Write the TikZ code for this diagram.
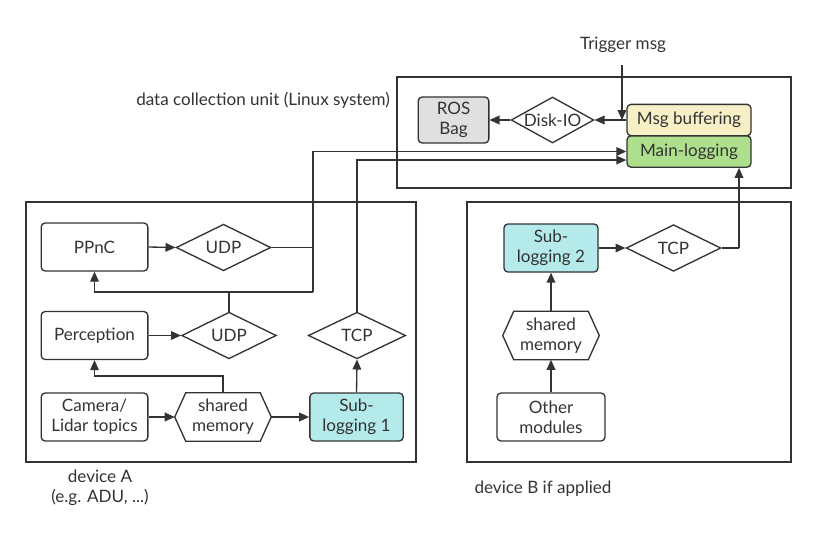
\documentclass[tikz,border=0pt]{standalone}
\usepackage{fontspec}
\setmainfont{Lato}
\usetikzlibrary{arrows.meta,shapes.geometric}
\definecolor{ink}{HTML}{333333}
\definecolor{bagfill}{HTML}{E0E0E0}
\definecolor{buffill}{HTML}{F7EFC6}
\definecolor{mainfill}{HTML}{ADDF8D}
\definecolor{subfill}{HTML}{B5EAEA}
\def\hexbox(#1){\draw[ink, line width=1pt] (#1.west) -- ([xshift=8.25pt]#1.north west) -- ([xshift=-8.25pt]#1.north east) -- (#1.east) -- ([xshift=-8.25pt]#1.south east) -- ([xshift=8.25pt]#1.south west) -- cycle;}
\tikzset{
  box/.style={draw=ink, line width=1pt, rounded corners=3pt, align=center, inner sep=0pt, minimum width=80pt, minimum height=36pt, text=ink},
  gate/.style={draw=ink, line width=1pt, diamond, aspect=2, inner sep=0pt, minimum width=71pt, minimum height=35pt, text=ink},
  hexa/.style={align=center, inner sep=0pt, minimum width=72pt, minimum height=36pt, text=ink},
  wire/.style={ink, line width=1pt},
  arr/.style={wire, -{Triangle[length=7.5pt,width=6.5pt]}},
  lbl/.style={text=ink, align=center},
}
\begin{document}
\begin{tikzpicture}[x=0.75pt, y=-0.75pt, font=\fontsize{12.8}{15}\selectfont]
			%%%%% START %%%%%
			\useasboundingbox (0,0) rectangle (816,533);
			
			\draw[wire] (397, 77) rectangle (791, 188);
			\draw[wire] (26, 202) rectangle (416, 462);
			\draw[wire] (467, 202) rectangle (791, 462);
			
			\node[lbl] (trigger) at (623, 45) {Trigger msg};
			\node[lbl] (dcu) at (263, 100) {data collection unit (Linux system)};
			\node[lbl] (devA) at (100, 488) {device A\\(e.g. ADU, ...)};
			\node[lbl] (devB) at (543, 489) {device B if applied};
			
			\node[box, fill=bagfill, minimum width=53pt, minimum height=34.5pt] (bag) at (453.5, 120) {ROS\\Bag};
			\node[gate, minimum width=59pt, minimum height=34.5pt] (disk) at (552.5, 120) {Disk-IO};
			\node[box, fill=buffill, minimum width=93pt, minimum height=23.5pt] (buf) at (689, 120) {Msg buffering};
			\node[box, fill=mainfill, minimum width=93pt, minimum height=23.5pt] (main) at (689, 151.5) {Main-logging};
			
			\node[box] (ppnc) at (94.5, 247) {PPnC};
			\node[gate] (udpa) at (223.5, 247.5) {UDP};
			\node[box] (perc) at (94.5, 335.5) {Perception};
			\node[gate] (udpb) at (229, 335.5) {UDP};
			\node[gate, minimum width=73pt] (tcpa) at (357, 335.5) {TCP};
			\node[box] (cam) at (94.5, 417) {Camera/\\Lidar topics};
			\node[hexa] (smema) at (223, 417) {shared\\memory};
			\hexbox(smema)
			\node[box, fill=subfill, minimum width=70pt] (suba) at (356.5, 417) {Sub-\\logging 1};
			
			\node[box, fill=subfill, minimum width=70.5pt] (subb) at (551, 248) {Sub-\\logging 2};
			\node[gate] (tcpb) at (673.5, 248) {TCP};
			\node[hexa] (smemb) at (551, 335.5) {shared\\memory};
			\hexbox(smemb)
			\node[box, minimum width=81pt] (other) at (551, 417) {Other\\modules};
			
			\coordinate (trig) at (622, 65);
			\coordinate (bendA) at (313, 292);
			\coordinate (bendB) at (223, 376);
			\coordinate (bendC) at (739, 248);
			
			\draw[arr] (trig) -- (trig |- buf.west);
			\draw[arr] (buf.west) -- (disk.east);
			\draw[arr] (disk.west) -- (bag.east);
			
			\draw[wire] (udpa.east) -- (udpa.east -| bendA);
			\draw[arr] (bendA) |- (main.west);
			\draw[arr] (bendA) -| (ppnc.south);
			\draw[wire] (udpb.north) -- (udpb.north |- bendA);
			\draw[arr] (perc.east) -- (udpb.west);
			\draw[arr] (ppnc.east) -- (udpa.west);
			\draw[arr] (tcpa.north) |- ([yshift=-6.4pt]main.west);
			
			\draw[arr] (cam.east) -- (smema.west);
			\draw[arr] (smema.east) -- (suba.west);
			\draw[arr] (smema.north) -- (bendB) -| (perc.south);
			\draw[arr] (suba.north) -- (tcpa.south);
			
			\draw[arr] (other.north) -- (smemb.south);
			\draw[arr] (smemb.north) -- (subb.south);
			\draw[arr] (subb.east) -- (tcpb.west);
			\draw[wire] (tcpb.east) -- (bendC);
			\draw[arr] (bendC) -- (bendC |- main.south);
			
			%%%%% END %%%%%
\end{tikzpicture}
\end{document}
